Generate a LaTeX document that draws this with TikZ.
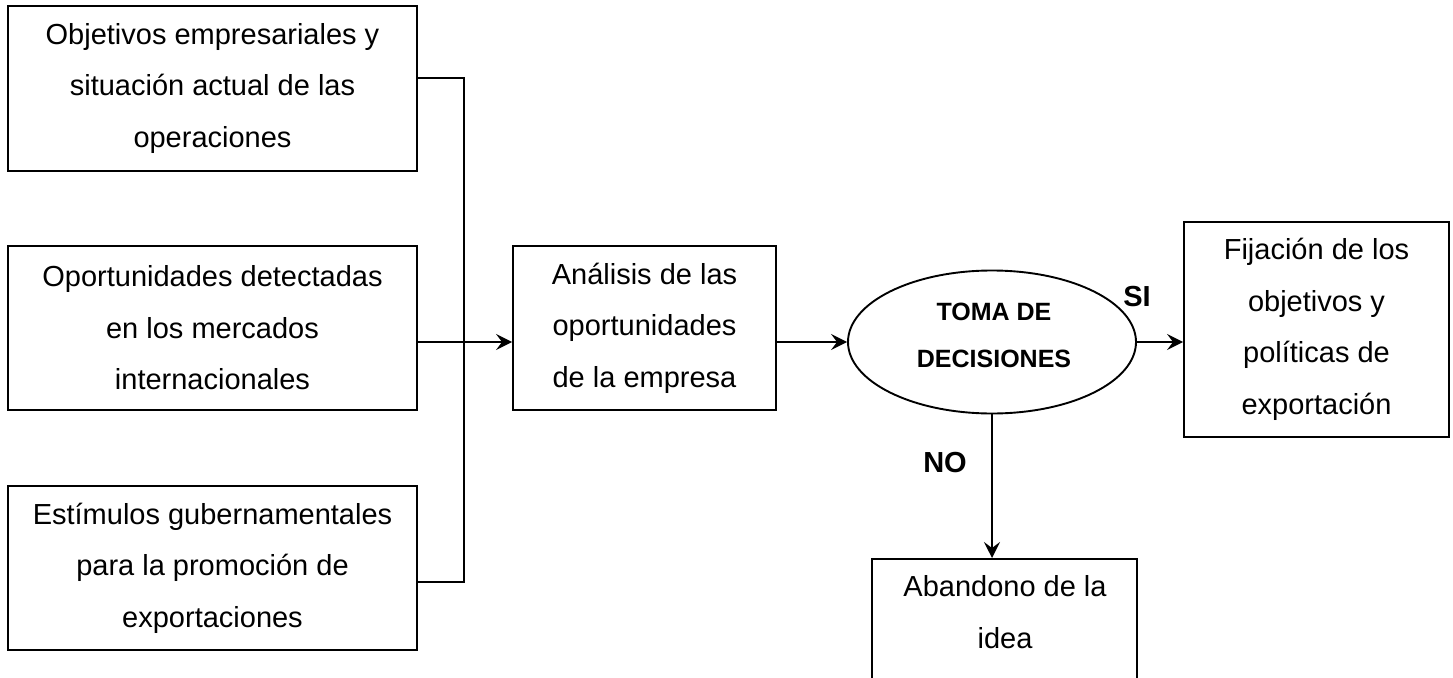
\documentclass[tikz,border=0pt]{standalone}
\usepackage{fontspec}
\setmainfont{Liberation Sans}
\usetikzlibrary{arrows.meta,shapes.geometric}
\begin{document}
\begin{tikzpicture}[x=1pt,y=-1pt,
  boxst/.style={draw, line width=1.9pt, inner sep=0pt},
  txt/.style={align=center, font=\fontsize{29}{51.5}\selectfont},
  lbl/.style={font=\bfseries\fontsize{29}{34}\selectfont},
  conn/.style={line width=1.9pt},
  arr/.style={line width=1.9pt, -{Stealth[length=16pt,width=16pt,inset=6pt]}}]
\useasboundingbox (0,0) rectangle (1453,677);
\clip (0,0) rectangle (1453,677);

\node[boxst, txt, minimum width=409pt, minimum height=165pt] (obj) at (212.5,88.5)
  {Objetivos empresariales y\\situación actual de las\\operaciones};
\node[boxst, txt, minimum width=409pt, minimum height=164pt] (opo) at (212.5,328)
  {Oportunidades detectadas\\en los mercados\\internacionales};
\node[boxst, txt, minimum width=409pt, minimum height=164pt] (est) at (212.5,568)
  {Estímulos gubernamentales\\para la promoción de\\exportaciones};
\node[boxst, txt, minimum width=263pt, minimum height=164pt] (ana) at (644.5,328)
  {Análisis de las\\oportunidades\\de la empresa};
\node[draw, ellipse, line width=1.9pt, inner sep=0pt, minimum width=288pt, minimum height=143pt]
  (dec) at (992,342) {};
\node[align=center, font=\bfseries\fontsize{25}{47}\selectfont] (dectxt) at (994,335)
  {TOMA DE\\DECISIONES};
\node[boxst, txt, minimum width=265pt, minimum height=215pt] (fix) at (1316.5,329.5)
  {Fijación de los\\objetivos y\\políticas de\\exportación};
\node[boxst, minimum width=265pt, minimum height=180pt, anchor=north] (aba) at (1004.5,558) {};
\node[txt] (abatxt) at (1005,612) {Abandono de la\\idea};

\node[lbl] (si) at (1137,297) {SI};
\node[lbl] (no) at (945,463) {NO};

\coordinate (jtop) at (464,78);
\coordinate (jmid) at (464,342);
\coordinate (jbot) at (464,582);

\draw[conn] (jtop -| obj.east) -- (jtop) -- (jbot) -- (jbot -| est.east);
\draw[arr] (jmid -| opo.east) -- (jmid -| ana.west);
\draw[arr] (jmid -| ana.east) -- (dec.west);
\draw[arr] (dec.east) -- (dec.east -| fix.west);
\draw[arr] (dec.south) -- (dec.south |- aba.north);
\end{tikzpicture}
\end{document}
